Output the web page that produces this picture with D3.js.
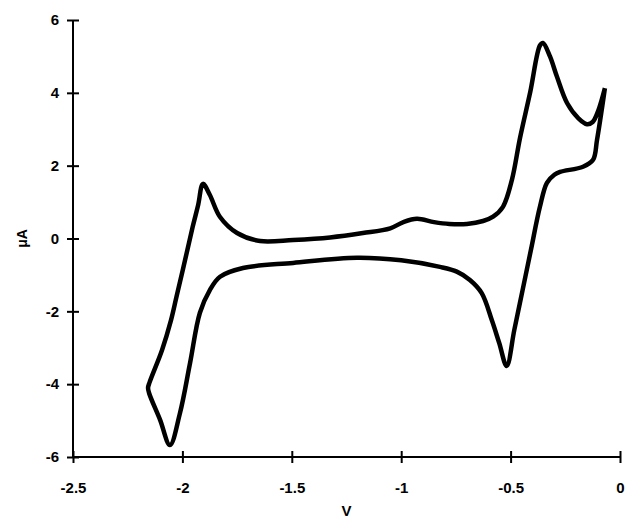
<!DOCTYPE html>
<html>
<head>
<meta charset="utf-8">
<script src="https://cdn.jsdelivr.net/npm/d3@7"></script>
<style>
  body { margin: 0; background: #fff; }
  svg text { font-family: "Liberation Sans", Arial, sans-serif; font-weight: bold; fill: #000; }
</style>
</head>
<body>
<div id="chart"></div>
<script>
// potential (V) and current (uA), traced around the loop
const potential = [-0.069, -0.10, -0.125, -0.151, -0.19, -0.242, -0.288, -0.32, -0.352, -0.366, -0.41,
  -0.457, -0.494, -0.535, -0.58, -0.626, -0.70, -0.78, -0.85, -0.928, -0.99, -1.05, -1.175,
  -1.325, -1.494, -1.645, -1.75, -1.828, -1.875, -1.906, -1.928, -1.953, -1.998, -2.027, -2.052, -2.093,
  -2.15, -2.157, -2.152, -2.102, -2.057, -2.011, -1.965, -1.92, -1.874, -1.828, -1.723, -1.494, -1.202,
  -1.0, -0.823, -0.746, -0.686, -0.632, -0.586, -0.552, -0.518, -0.483, -0.445, -0.407,
  -0.366, -0.334, -0.30, -0.274, -0.169, -0.123, -0.105, -0.069];
const current = [4.13, 3.5, 3.2, 3.14, 3.3, 3.72, 4.44, 5.0, 5.37, 5.3, 4.03,
  2.76, 1.61, 0.87, 0.6, 0.48, 0.40, 0.40, 0.45, 0.54, 0.45, 0.28, 0.15,
  0.03, -0.04, -0.07, 0.15, 0.59, 1.2, 1.5, 0.92, 0.32, -0.86, -1.6, -2.24, -3.06,
  -3.95, -4.1, -4.25, -4.98, -5.67, -4.79, -3.42, -2.04, -1.41, -1.05, -0.81, -0.67, -0.53,
  -0.6, -0.78, -0.91, -1.14, -1.5, -2.24, -2.87, -3.5, -2.51, -1.41, -0.31,
  0.87, 1.53, 1.75, 1.83, 1.97, 2.16, 2.71, 4.13];

const xTicks = [-2.5, -2, -1.5, -1, -0.5, 0];
const yTicks = [-6, -4, -2, 0, 2, 4, 6];

const W = 625, H = 525;
const margin = { top: 20, right: 5, bottom: 68, left: 73 };

const svg = d3.select("#chart").append("svg")
  .attr("width", W).attr("height", H);

const x = d3.scaleLinear().domain([-2.5, 0]).range([margin.left, W - margin.right]);
const y = d3.scaleLinear().domain([-6, 6]).range([H - margin.bottom, margin.top]);

// plain hyphen for negatives, like the original
const fmt = d => String(d);

// axes with ticks crossing the line
const xAxis = svg.append("g")
  .attr("transform", `translate(0,${y(-6)})`)
  .call(d3.axisBottom(x).tickValues(xTicks).tickSize(6).tickPadding(19).tickFormat(fmt));
const yAxis = svg.append("g")
  .attr("transform", `translate(${x(-2.5)},0)`)
  .call(d3.axisLeft(y).tickValues(yTicks).tickSize(6).tickPadding(8).tickFormat(fmt));

[xAxis, yAxis].forEach(g => {
  g.select(".domain").attr("stroke", "#000").attr("stroke-width", 2);
  g.selectAll(".tick line").attr("stroke", "#000").attr("stroke-width", 2);
  g.selectAll(".tick text").style("font-size", "15px").attr("fill", "#000");
});
xAxis.selectAll(".tick line").attr("y1", -6);
yAxis.selectAll(".tick line").attr("x1", 6);
xAxis.select(".domain").attr("d", `M${x(-2.5)},0H${x(0)}`);
yAxis.select(".domain").attr("d", `M0,${y(-6)}V${y(6)}`);

svg.append("text")
  .attr("x", (x(-2.5) + x(0)) / 2).attr("y", 516)
  .attr("text-anchor", "middle").style("font-size", "15px")
  .text("V");

svg.append("text")
  .attr("transform", `translate(27,${y(0)}) rotate(-90)`)
  .attr("text-anchor", "middle").style("font-size", "14px")
  .text("μA");

const pts = potential.map((v, i) => [v, current[i]]);
const line = d3.line()
  .x(d => x(d[0])).y(d => y(d[1]))
  .curve(d3.curveCatmullRom.alpha(0.5));

svg.append("path")
  .datum(pts)
  .attr("d", line)
  .attr("fill", "none")
  .attr("stroke", "#000")
  .attr("stroke-width", 4.5)
  .attr("stroke-linejoin", "round");
</script>
</body>
</html>
